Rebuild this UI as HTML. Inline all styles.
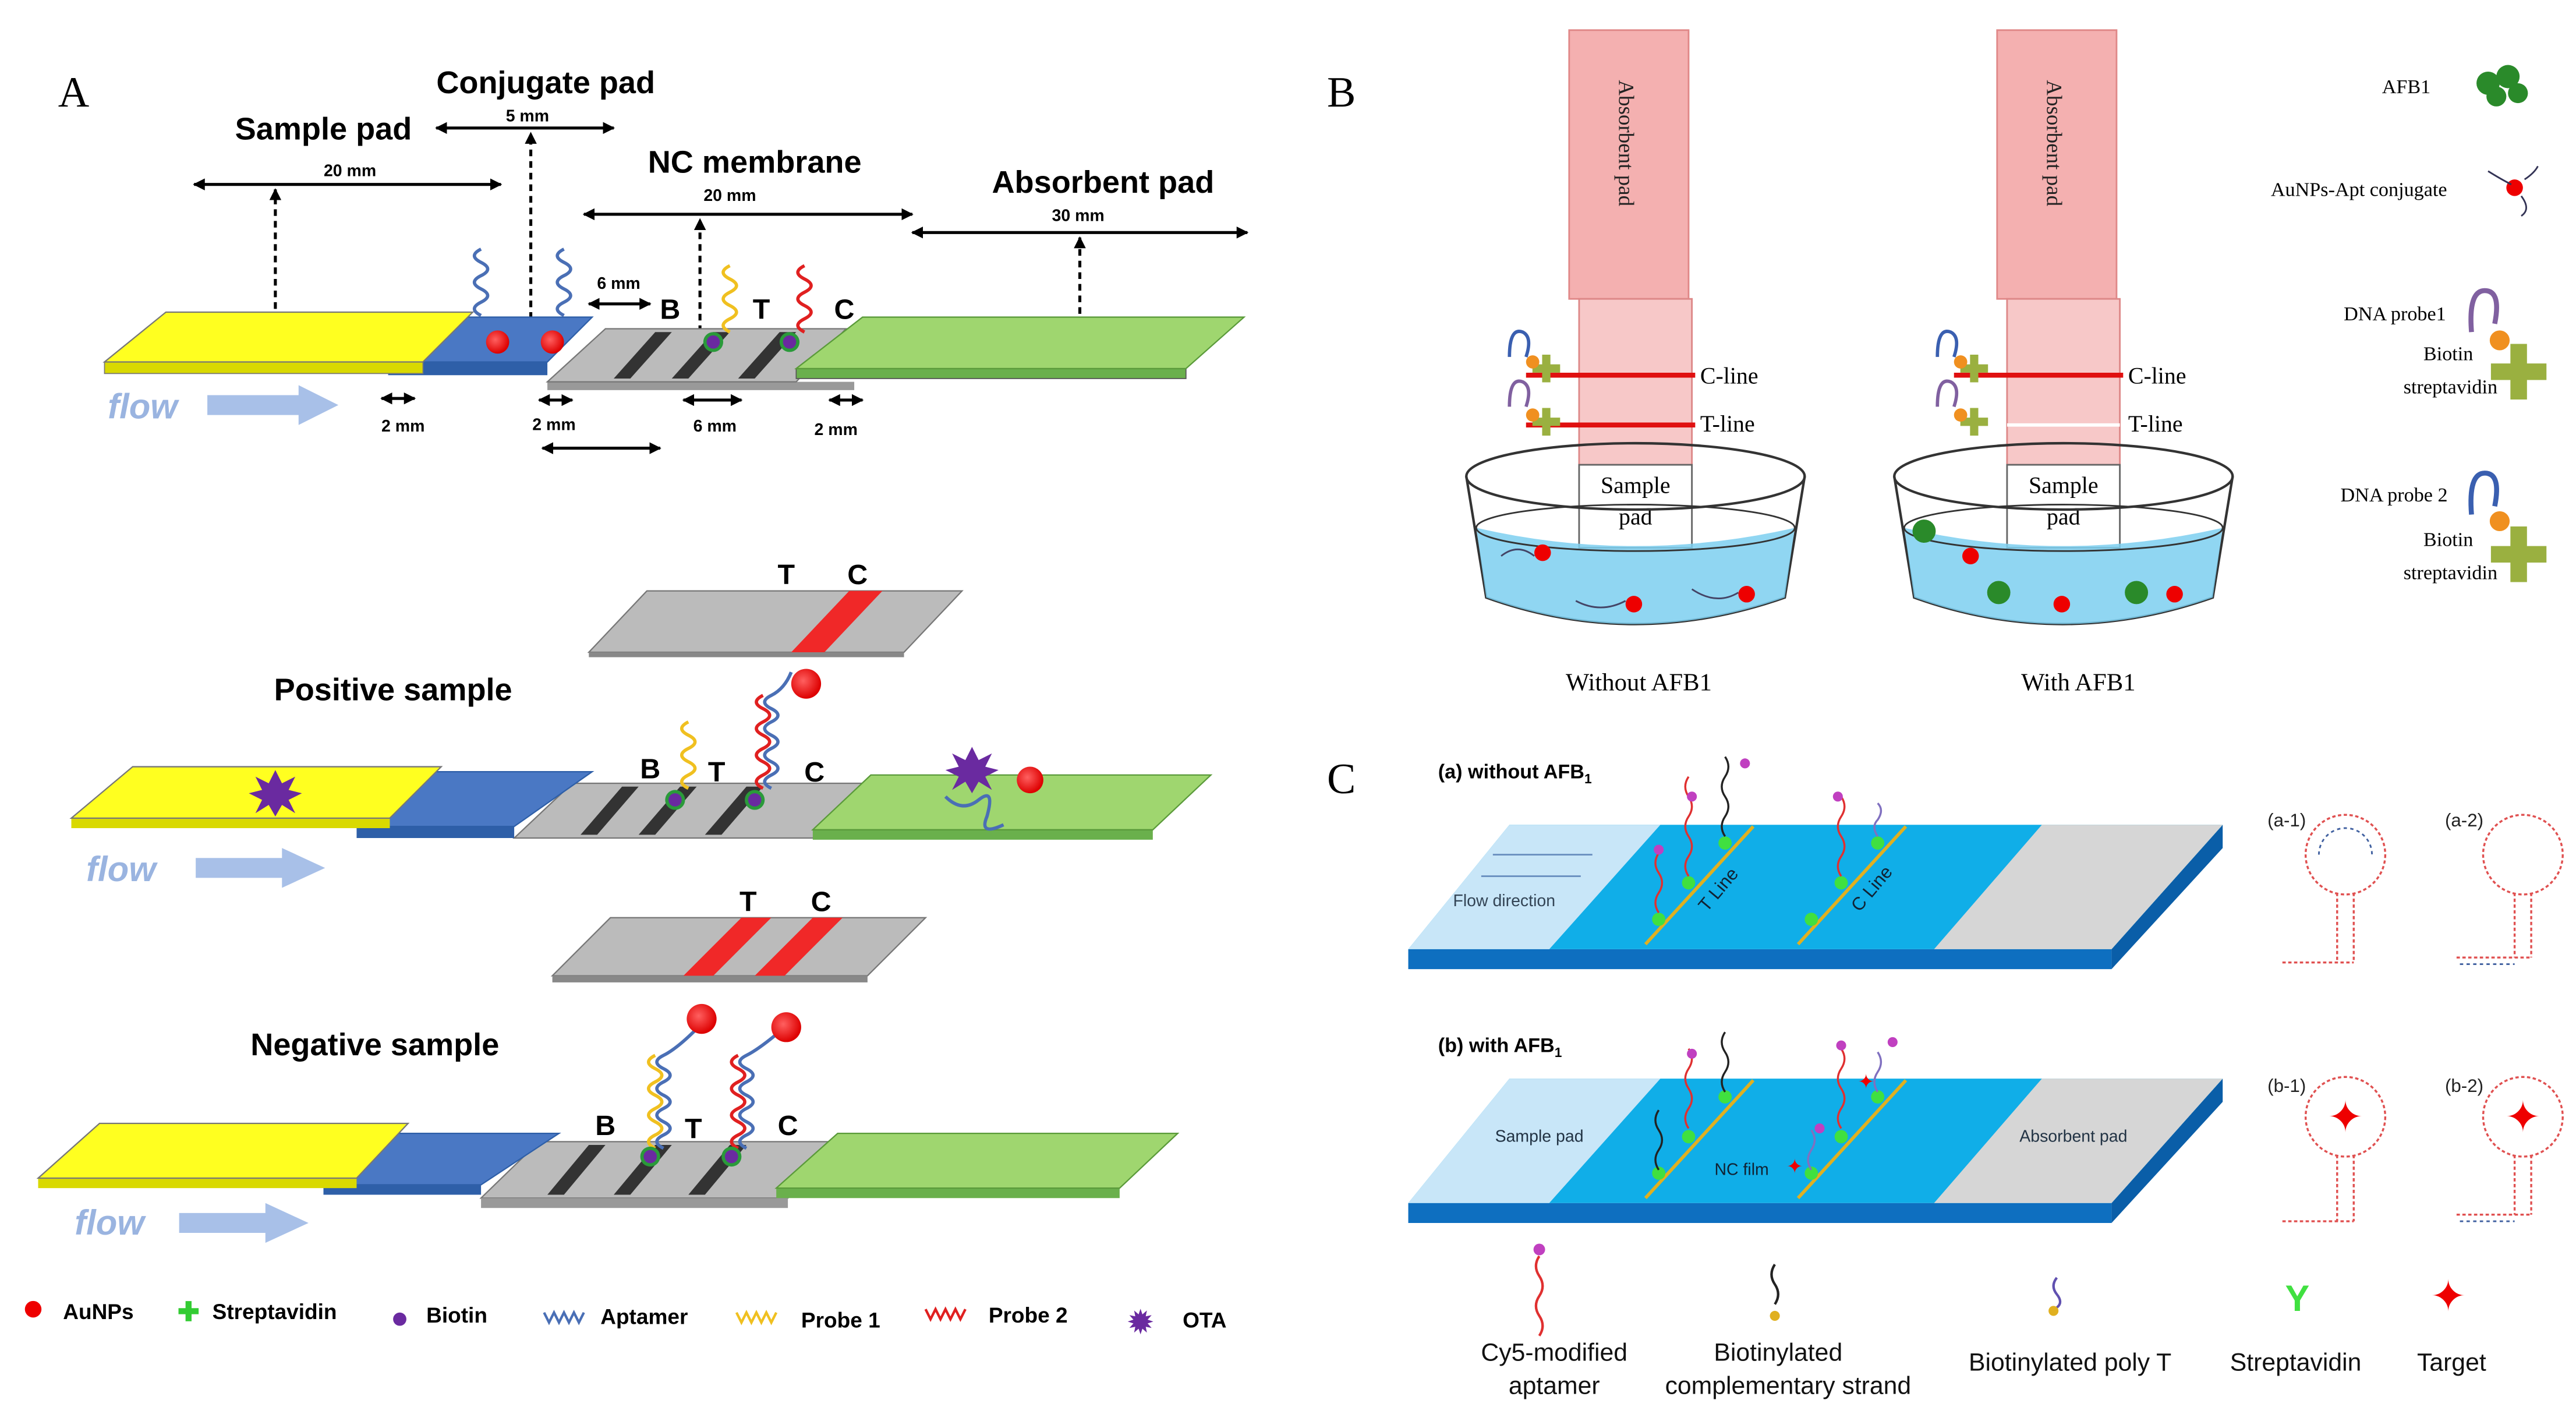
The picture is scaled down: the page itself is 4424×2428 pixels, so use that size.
<!DOCTYPE html>
<html><head><meta charset="utf-8"><style>
html,body{margin:0;padding:0;background:#fff;}
svg{display:block;}
.sb{font-family:"Liberation Sans",sans-serif;font-weight:bold;}
.s{font-family:"Liberation Sans",sans-serif;}
.sf{font-family:"Liberation Serif",serif;}
</style></head><body>
<svg width="4424" height="2428" viewBox="0 0 1553 852" xmlns="http://www.w3.org/2000/svg">
<defs>
<marker id="ah" viewBox="0 0 10 10" refX="9" refY="5" markerWidth="4" markerHeight="4" orient="auto-start-reverse"><path d="M0,0L10,5L0,10z" fill="#000"/></marker>
<radialGradient id="rb" cx="0.4" cy="0.4" r="0.6"><stop offset="0" stop-color="#ff6060"/><stop offset="1" stop-color="#d00"/></radialGradient>
</defs>
<rect width="1553" height="852" fill="#fff"/>

<!-- ================= PANEL A ================= -->
<text x="35" y="64" class="sf" font-size="26">A</text>
<text x="329" y="56" class="sb" font-size="19" text-anchor="middle">Conjugate pad</text>
<text x="195" y="84" class="sb" font-size="19" text-anchor="middle">Sample pad</text>
<text x="455" y="104" class="sb" font-size="19" text-anchor="middle">NC membrane</text>
<text x="665" y="116" class="sb" font-size="19" text-anchor="middle">Absorbent pad</text>
<g stroke="#000" stroke-width="1.8" fill="none">
<line x1="117" y1="111" x2="302" y2="111" marker-start="url(#ah)" marker-end="url(#ah)"/>
<line x1="263" y1="77" x2="370" y2="77" marker-start="url(#ah)" marker-end="url(#ah)"/>
<line x1="352" y1="129" x2="550" y2="129" marker-start="url(#ah)" marker-end="url(#ah)"/>
<line x1="550" y1="140" x2="752" y2="140" marker-start="url(#ah)" marker-end="url(#ah)"/>
<line x1="166" y1="186" x2="166" y2="114" stroke-dasharray="4,3" marker-end="url(#ah)"/>
<line x1="320" y1="192" x2="320" y2="80" stroke-dasharray="4,3" marker-end="url(#ah)"/>
<line x1="422" y1="200" x2="422" y2="132" stroke-dasharray="4,3" marker-end="url(#ah)"/>
<line x1="651" y1="189" x2="651" y2="143" stroke-dasharray="4,3" marker-end="url(#ah)"/>
<line x1="355" y1="183" x2="392" y2="183" marker-start="url(#ah)" marker-end="url(#ah)"/>
<line x1="230" y1="240" x2="250" y2="240" marker-start="url(#ah)" marker-end="url(#ah)"/>
<line x1="325" y1="241" x2="345" y2="241" marker-start="url(#ah)" marker-end="url(#ah)"/>
<line x1="412" y1="241" x2="447" y2="241" marker-start="url(#ah)" marker-end="url(#ah)"/>
<line x1="500" y1="241" x2="520" y2="241" marker-start="url(#ah)" marker-end="url(#ah)"/>
<line x1="327" y1="270" x2="398" y2="270" marker-start="url(#ah)" marker-end="url(#ah)"/>
</g>
<g class="sb" font-size="10" text-anchor="middle">
<text x="211" y="106">20 mm</text><text x="318" y="73">5 mm</text><text x="440" y="121">20 mm</text><text x="650" y="133">30 mm</text>
<text x="373" y="174">6 mm</text><text x="243" y="260">2 mm</text><text x="334" y="259">2 mm</text><text x="431" y="260">6 mm</text><text x="504" y="262">2 mm</text>
</g>
<!-- top strip -->
<polygon points="330,235 515,235 515,230 330,230" fill="#999"/>
<polygon points="330,230 480,230 510,198 365,198" fill="#bbb" stroke="#777" stroke-width="0.8"/>
<polygon points="370,228 380,228 405,200 395,200" fill="#333"/><polygon points="405,228 415,228 440,200 430,200" fill="#333"/><polygon points="445,228 455,228 480,200 470,200" fill="#333"/>
<polygon points="234,218 330,218 330,226 234,226" fill="#2e5fa8"/>
<polygon points="234,218 330,218 357,191 262,191" fill="#4a78c4" stroke="#2e5fa8" stroke-width="0.8"/>
<polygon points="63,218 255,218 255,225 63,225" fill="#d9d900" stroke="#777" stroke-width="0.6"/>
<polygon points="63,218 255,218 285,188 100,188" fill="#ffff20" stroke="#777" stroke-width="0.8"/>
<polygon points="480,222 715,222 715,228 480,228" fill="#6ab04c" stroke="#555" stroke-width="0.6"/>
<polygon points="480,222 715,222 750,191 520,191" fill="#9fd66f" stroke="#5a9a3a" stroke-width="0.8"/>
<circle cx="300" cy="206" r="7" fill="url(#rb)"/><circle cx="333" cy="206" r="7" fill="url(#rb)"/>
<g fill="none" stroke-width="2">
<path d="M290,190 q-8,-4 0,-8 q8,-4 0,-8 q-8,-4 0,-8 q8,-4 0,-8 q-8,-4 0,-8" stroke="#4a6fb5"/>
<path d="M340,190 q-8,-4 0,-8 q8,-4 0,-8 q-8,-4 0,-8 q8,-4 0,-8 q-8,-4 0,-8" stroke="#4a6fb5"/>
<path d="M440,200 q-8,-4 0,-8 q8,-4 0,-8 q-8,-4 0,-8 q8,-4 0,-8 q-8,-4 0,-8" stroke="#f0c020"/>
<path d="M485,200 q-8,-4 0,-8 q8,-4 0,-8 q-8,-4 0,-8 q8,-4 0,-8 q-8,-4 0,-8" stroke="#e02020"/>
</g>
<circle cx="430" cy="206" r="6" fill="#2a9a3a"/><circle cx="430" cy="206" r="4" fill="#6a2aa0"/>
<circle cx="476" cy="206" r="6" fill="#2a9a3a"/><circle cx="476" cy="206" r="4" fill="#6a2aa0"/>
<text x="404" y="192" class="sb" font-size="17" text-anchor="middle">B</text><text x="459" y="192" class="sb" font-size="17" text-anchor="middle">T</text><text x="509" y="192" class="sb" font-size="17" text-anchor="middle">C</text>
<text x="65" y="252" class="sb" font-size="21" font-style="italic" fill="#9ab4e0">flow</text>
<polygon points="125,238 180,238 180,232 204,244 180,256 180,250 125,250" fill="#a8c0e8"/>

<!-- T/C strip positive -->
<polygon points="355,393 545,393 580,356 390,356" fill="#bbb" stroke="#777" stroke-width="0.8"/>
<polygon points="355,393 545,393 545,396 355,396" fill="#888"/>
<polygon points="477,393 497,393 532,356 512,356" fill="#f02828"/>
<text x="474" y="352" class="sb" font-size="17" text-anchor="middle">T</text><text x="517" y="352" class="sb" font-size="17" text-anchor="middle">C</text>
<text x="237" y="422" class="sb" font-size="19" text-anchor="middle">Positive sample</text>
<!-- positive strip -->
<polygon points="310,505 495,505 520,472 345,472" fill="#bbb" stroke="#777" stroke-width="0.8"/>
<polygon points="350,503 360,503 385,474 375,474" fill="#333"/><polygon points="385,503 395,503 420,474 410,474" fill="#333"/><polygon points="425,503 435,503 460,474 450,474" fill="#333"/>
<polygon points="215,498 310,498 310,505 215,505" fill="#2e5fa8"/>
<polygon points="215,498 310,498 357,465 255,465" fill="#4a78c4" stroke="#2e5fa8" stroke-width="0.8"/>
<polygon points="43,493 235,493 235,499 43,499" fill="#d9d900"/>
<polygon points="43,493 235,493 266,462 80,462" fill="#ffff20" stroke="#777" stroke-width="0.8"/>
<polygon points="490,500 695,500 695,506 490,506" fill="#6ab04c"/>
<polygon points="490,500 695,500 730,467 525,467" fill="#9fd66f" stroke="#5a9a3a" stroke-width="0.8"/>
<polygon points="166,464 170,472 178,468 174,476 182,478 174,482 178,490 170,485 166,492 162,485 154,490 158,482 150,478 158,476 154,468 162,472" fill="#6a2aa0"/>
<polygon points="586,450 590,458 598,454 594,462 602,464 594,468 598,476 590,471 586,478 582,471 574,476 578,468 570,464 578,462 574,454 582,458" fill="#6a2aa0"/>
<circle cx="621" cy="470" r="8" fill="url(#rb)"/>
<path d="M570,480 q10,10 20,2 q10,-8 5,10 q-5,12 10,5" stroke="#4a6fb5" stroke-width="2" fill="none"/>
<g fill="none" stroke-width="2">
<path d="M415,475 q-8,-4 0,-8 q8,-4 0,-8 q-8,-4 0,-8 q8,-4 0,-8 q-8,-4 0,-8" stroke="#f0c020"/>
<path d="M460,475 q-8,-4 0,-8 q8,-4 0,-8 q-8,-4 0,-8 q8,-4 0,-8 q-8,-4 0,-8 q8,-4 0,-8 q-8,-4 0,-8" stroke="#e02020"/>
<path d="M465,475 q-8,-4 0,-8 q8,-4 0,-8 q-8,-4 0,-8 q8,-4 0,-8 q-8,-4 0,-8 q8,-4 0,-8 q-8,-4 0,-8 q8,-4 12,-14" stroke="#4a6fb5"/>
</g>
<circle cx="486" cy="412" r="9" fill="url(#rb)"/>
<circle cx="407" cy="482" r="6" fill="#2a9a3a"/><circle cx="407" cy="482" r="4" fill="#6a2aa0"/>
<circle cx="455" cy="482" r="6" fill="#2a9a3a"/><circle cx="455" cy="482" r="4" fill="#6a2aa0"/>
<text x="392" y="469" class="sb" font-size="17" text-anchor="middle">B</text><text x="432" y="471" class="sb" font-size="17" text-anchor="middle">T</text><text x="491" y="471" class="sb" font-size="17" text-anchor="middle">C</text>
<text x="52" y="531" class="sb" font-size="21" font-style="italic" fill="#9ab4e0">flow</text>
<polygon points="118,517 170,517 170,511 196,523 170,535 170,529 118,529" fill="#a8c0e8"/>

<!-- T/C strip negative -->
<polygon points="333,588 523,588 558,553 368,553" fill="#bbb" stroke="#777" stroke-width="0.8"/>
<polygon points="333,588 523,588 523,592 333,592" fill="#888"/>
<polygon points="412,588 430,588 465,553 447,553" fill="#f02828"/>
<polygon points="455,588 473,588 508,553 490,553" fill="#f02828"/>
<text x="451" y="549" class="sb" font-size="17" text-anchor="middle">T</text><text x="495" y="549" class="sb" font-size="17" text-anchor="middle">C</text>
<text x="226" y="636" class="sb" font-size="19" text-anchor="middle">Negative sample</text>
<!-- negative strip -->
<polygon points="290,722 475,722 505,688 325,688" fill="#bbb" stroke="#777" stroke-width="0.8"/>
<polygon points="290,722 475,722 475,728 290,728" fill="#999"/>
<polygon points="330,720 340,720 365,690 355,690" fill="#333"/><polygon points="370,720 380,720 405,690 395,690" fill="#333"/><polygon points="415,720 425,720 450,690 440,690" fill="#333"/>
<polygon points="195,714 290,714 290,720 195,720" fill="#2e5fa8"/>
<polygon points="195,714 290,714 337,683 235,683" fill="#4a78c4" stroke="#2e5fa8" stroke-width="0.8"/>
<polygon points="23,710 215,710 215,716 23,716" fill="#d9d900"/>
<polygon points="23,710 215,710 246,677 60,677" fill="#ffff20" stroke="#777" stroke-width="0.8"/>
<polygon points="468,716 675,716 675,722 468,722" fill="#6ab04c"/>
<polygon points="468,716 675,716 710,683 505,683" fill="#9fd66f" stroke="#5a9a3a" stroke-width="0.8"/>
<g fill="none" stroke-width="2">
<path d="M395,692 q-8,-4 0,-8 q8,-4 0,-8 q-8,-4 0,-8 q8,-4 0,-8 q-8,-4 0,-8 q8,-4 0,-8 q-8,-4 0,-8" stroke="#f0c020"/>
<path d="M400,692 q-8,-4 0,-8 q8,-4 0,-8 q-8,-4 0,-8 q8,-4 0,-8 q-8,-4 0,-8 q8,-4 0,-8 q-8,-4 0,-8 q8,-4 20,-16" stroke="#4a6fb5"/>
<path d="M445,692 q-8,-4 0,-8 q8,-4 0,-8 q-8,-4 0,-8 q8,-4 0,-8 q-8,-4 0,-8 q8,-4 0,-8 q-8,-4 0,-8" stroke="#e02020"/>
<path d="M450,692 q-8,-4 0,-8 q8,-4 0,-8 q-8,-4 0,-8 q8,-4 0,-8 q-8,-4 0,-8 q8,-4 0,-8 q-8,-4 0,-8 q8,-4 22,-16" stroke="#4a6fb5"/>
</g>
<circle cx="423" cy="614" r="9" fill="url(#rb)"/><circle cx="474" cy="619" r="9" fill="url(#rb)"/>
<circle cx="392" cy="697" r="6" fill="#2a9a3a"/><circle cx="392" cy="697" r="4" fill="#6a2aa0"/>
<circle cx="441" cy="697" r="6" fill="#2a9a3a"/><circle cx="441" cy="697" r="4" fill="#6a2aa0"/>
<text x="365" y="684" class="sb" font-size="17" text-anchor="middle">B</text><text x="418" y="686" class="sb" font-size="17" text-anchor="middle">T</text><text x="475" y="684" class="sb" font-size="17" text-anchor="middle">C</text>
<text x="45" y="744" class="sb" font-size="21" font-style="italic" fill="#9ab4e0">flow</text>
<polygon points="108,731 160,731 160,725 186,737 160,749 160,743 108,743" fill="#a8c0e8"/>

<!-- legend A -->
<circle cx="20" cy="789" r="5" fill="#e00"/><text x="38" y="795" class="sb" font-size="13">AuNPs</text>
<text x="107" y="796" class="sb" font-size="16" fill="#3c3">✚</text><text x="128" y="795" class="sb" font-size="13">Streptavidin</text>
<circle cx="241" cy="795" r="4" fill="#6a2aa0"/><text x="257" y="797" class="sb" font-size="13">Biotin</text>
<path d="M328,791 l3,6 l3,-6 l3,6 l3,-6 l3,6 l3,-6 l3,6 l3,-6" stroke="#4a6fb5" stroke-width="1.5" fill="none"/><text x="362" y="798" class="sb" font-size="13">Aptamer</text>
<path d="M444,791 l3,6 l3,-6 l3,6 l3,-6 l3,6 l3,-6 l3,6 l3,-6" stroke="#f0c020" stroke-width="1.5" fill="none"/><text x="483" y="800" class="sb" font-size="13">Probe 1</text>
<path d="M558,789 l3,6 l3,-6 l3,6 l3,-6 l3,6 l3,-6 l3,6 l3,-6" stroke="#e02020" stroke-width="1.5" fill="none"/><text x="596" y="797" class="sb" font-size="13">Probe 2</text>
<text x="680" y="803" class="sb" font-size="18" fill="#6a2aa0">✹</text><text x="713" y="800" class="sb" font-size="13">OTA</text>

<!-- ================= PANEL B ================= -->
<text x="800" y="64" class="sf" font-size="26">B</text>
<g id="colB">
<rect x="946" y="18" width="72" height="162" fill="#f4b0b0" stroke="#e08888"/>
<text transform="translate(976,48) rotate(90)" class="sf" font-size="13" fill="#222">Absorbent pad</text>
<rect x="952" y="180" width="68" height="100" fill="#f7c8c8" stroke="#d88"/>
<rect x="952" y="280" width="68" height="50" fill="#fff" stroke="#666"/>
<text x="986" y="297" class="sf" font-size="14" text-anchor="middle">Sample</text>
<text x="986" y="316" class="sf" font-size="14" text-anchor="middle">pad</text>
<path d="M884,287 L896,360 Q985,392 1076,360 L1088,287" fill="none" stroke="#333" stroke-width="1.5"/>
<path d="M890,318 Q985,340 1082,318 L1076,360 Q985,392 896,360 Z" fill="#7ccff0" opacity="0.85"/>
<ellipse cx="986" cy="287" rx="102" ry="20" fill="none" stroke="#333" stroke-width="1.5"/>
<ellipse cx="986" cy="318" rx="96" ry="14" fill="none" stroke="#333" stroke-width="1"/>
</g>
<line x1="920" y1="226" x2="1022" y2="226" stroke="#e01010" stroke-width="3"/>
<line x1="920" y1="256" x2="1022" y2="256" stroke="#e01010" stroke-width="3"/>
<text x="1025" y="231" class="sf" font-size="14">C-line</text><text x="1025" y="260" class="sf" font-size="14">T-line</text>
<path d="M910,215 q0,-18 8,-15 q6,3 2,15" fill="none" stroke="#3a5fb0" stroke-width="2"/><text x="923" y="230" font-size="22" fill="#9ab040" class="sb">✚</text><circle cx="924" cy="218" r="4" fill="#f09020"/>
<path d="M910,245 q0,-18 8,-15 q6,3 2,15" fill="none" stroke="#8060a0" stroke-width="2"/><text x="923" y="262" font-size="22" fill="#9ab040" class="sb">✚</text><circle cx="924" cy="250" r="4" fill="#f09020"/>
<circle cx="930" cy="333" r="5" fill="#e00"/><circle cx="985" cy="364" r="5" fill="#e00"/><circle cx="1053" cy="358" r="5" fill="#e00"/>
<path d="M905,335 q10,-8 20,0 M950,362 q15,8 30,0 M1020,355 q15,10 28,2" stroke="#446" fill="none"/>
<text x="988" y="416" class="sf" font-size="15" text-anchor="middle">Without AFB1</text>

<use href="#colB" x="258"/>
<line x1="1178" y1="226" x2="1280" y2="226" stroke="#e01010" stroke-width="3"/>
<line x1="1210" y1="256" x2="1278" y2="256" stroke="#fff" stroke-width="2"/>
<text x="1283" y="231" class="sf" font-size="14">C-line</text><text x="1283" y="260" class="sf" font-size="14">T-line</text>
<path d="M1168,215 q0,-18 8,-15 q6,3 2,15" fill="none" stroke="#3a5fb0" stroke-width="2"/><text x="1181" y="230" font-size="22" fill="#9ab040" class="sb">✚</text><circle cx="1182" cy="218" r="4" fill="#f09020"/>
<path d="M1168,245 q0,-18 8,-15 q6,3 2,15" fill="none" stroke="#8060a0" stroke-width="2"/><text x="1181" y="262" font-size="22" fill="#9ab040" class="sb">✚</text><circle cx="1182" cy="250" r="4" fill="#f09020"/>
<circle cx="1160" cy="320" r="7" fill="#2a8a2a"/><circle cx="1205" cy="357" r="7" fill="#2a8a2a"/><circle cx="1288" cy="357" r="7" fill="#2a8a2a"/>
<circle cx="1188" cy="335" r="5" fill="#e00"/><circle cx="1243" cy="364" r="5" fill="#e00"/><circle cx="1311" cy="358" r="5" fill="#e00"/>
<text x="1253" y="416" class="sf" font-size="15" text-anchor="middle">With AFB1</text>

<text x="1436" y="56" class="sf" font-size="12">AFB1</text>
<g fill="#2a8a2a"><circle cx="1500" cy="50" r="7"/><circle cx="1512" cy="46" r="7"/><circle cx="1518" cy="56" r="6"/><circle cx="1505" cy="58" r="6"/></g>
<text x="1369" y="118" class="sf" font-size="12">AuNPs-Apt conjugate</text>
<circle cx="1516" cy="113" r="5" fill="#e00"/><path d="M1500,103 q8,5 14,8 M1520,118 q6,8 0,12 M1522,108 q6,-4 8,-8" stroke="#335" fill="none"/>
<text x="1413" y="193" class="sf" font-size="12">DNA probe1</text>
<path d="M1490,200 q-2,-25 8,-25 q10,0 6,20" fill="none" stroke="#8060a0" stroke-width="3"/>
<circle cx="1507" cy="205" r="6" fill="#f09020"/>
<text x="1500" y="240" font-size="44" fill="#9ab040" class="sb">✚</text>
<text x="1461" y="217" class="sf" font-size="12">Biotin</text><text x="1449" y="237" class="sf" font-size="12">streptavidin</text>
<text x="1411" y="302" class="sf" font-size="12">DNA probe 2</text>
<path d="M1490,310 q-2,-25 8,-25 q10,0 6,20" fill="none" stroke="#3a5fb0" stroke-width="3"/>
<circle cx="1507" cy="314" r="6" fill="#f09020"/>
<text x="1500" y="350" font-size="44" fill="#9ab040" class="sb">✚</text>
<text x="1461" y="329" class="sf" font-size="12">Biotin</text><text x="1449" y="349" class="sf" font-size="12">streptavidin</text>

<!-- ================= PANEL C ================= -->
<text x="800" y="478" class="sf" font-size="26">C</text>
<text x="867" y="469" class="sb" font-size="12">(a) without AFB<tspan font-size="8" dy="3">1</tspan></text>
<g id="stripC">
<polygon points="849,572 1273,572 1273,584 849,584" fill="#0e6fc0"/>
<polygon points="1273,572 1340,497 1340,511 1273,584" fill="#0a5ea8"/>
<polygon points="849,572 1273,572 1340,497 910,497" fill="#10aee8"/>
<polygon points="849,572 934,572 1001,497 910,497" fill="#c8e6f8"/>
<polygon points="1166,572 1273,572 1340,497 1231,497" fill="#d6d6d6"/>
<line x1="992" y1="569" x2="1057" y2="498" stroke="#e0b020" stroke-width="2"/>
<line x1="1084" y1="569" x2="1149" y2="498" stroke="#e0b020" stroke-width="2"/>
<g fill="#40e040"><circle cx="1000" cy="554" r="4"/><circle cx="1018" cy="532" r="4"/><circle cx="1040" cy="508" r="4"/><circle cx="1092" cy="554" r="4"/><circle cx="1110" cy="532" r="4"/><circle cx="1132" cy="508" r="4"/></g>
</g>
<text x="876" y="546" class="s" font-size="10" fill="#345">Flow direction</text>
<line x1="900" y1="515" x2="960" y2="515" stroke="#6a90c0"/><line x1="893" y1="528" x2="953" y2="528" stroke="#6a90c0"/>
<text transform="translate(1029,550) rotate(-50)" class="s" font-size="11" fill="#123">T Line</text>
<text transform="translate(1121,550) rotate(-50)" class="s" font-size="11" fill="#123">C Line</text>
<g fill="none" stroke-width="1.2">
<path d="M1000,550 q-4,-6 0,-12 q4,-6 0,-12 q-4,-6 0,-12" stroke="#e03030"/><path d="M1018,528 q-4,-6 0,-12 q4,-6 0,-12 q-4,-6 0,-12 q4,-6 0,-12 q-4,-6 0,-12" stroke="#e03030"/>
<path d="M1040,504 q-4,-6 0,-12 q4,-6 0,-12 q-4,-6 0,-12 q4,-6 0,-12" stroke="#222"/><path d="M1110,528 q-4,-6 0,-12 q4,-6 0,-12 q-4,-6 0,-12 q4,-6 0,-12" stroke="#e03030"/>
<path d="M1132,504 q-4,-6 0,-10 q4,-6 0,-10" stroke="#8070c0"/>
</g>
<g fill="#c040c0"><circle cx="1000" cy="512" r="3"/><circle cx="1020" cy="480" r="3"/><circle cx="1052" cy="460" r="3"/><circle cx="1108" cy="480" r="3"/></g>

<text x="867" y="634" class="sb" font-size="12">(b) with AFB<tspan font-size="8" dy="3">1</tspan></text>
<use href="#stripC" y="153"/>
<text x="928" y="688" class="s" font-size="10" fill="#234" text-anchor="middle">Sample pad</text>
<text x="1050" y="708" class="s" font-size="10" fill="#123" text-anchor="middle">NC film</text>
<text x="1250" y="688" class="s" font-size="10" fill="#234" text-anchor="middle">Absorbent pad</text>
<g fill="none" stroke-width="1.2">
<path d="M1018,680 q-4,-6 0,-12 q4,-6 0,-12 q-4,-6 0,-12 q4,-6 0,-12" stroke="#e03030"/><path d="M1040,658 q-4,-6 0,-12 q4,-6 0,-12 q-4,-6 0,-12" stroke="#222"/>
<path d="M1000,705 q-4,-6 0,-12 q4,-6 0,-12 q-4,-6 0,-12" stroke="#222"/><path d="M1110,680 q-4,-6 0,-12 q4,-6 0,-12 q-4,-6 0,-12 q4,-6 0,-12" stroke="#e03030"/>
<path d="M1132,658 q-4,-6 0,-12 q4,-6 0,-12" stroke="#8070c0"/><path d="M1092,705 q-4,-6 0,-12 q4,-6 0,-12" stroke="#8070c0"/>
</g>
<g fill="#c040c0"><circle cx="1020" cy="635" r="3"/><circle cx="1097" cy="680" r="3"/><circle cx="1110" cy="630" r="3"/><circle cx="1141" cy="628" r="3"/></g>
<text x="1125" y="656" font-size="12" fill="#e00" text-anchor="middle">✦</text><text x="1082" y="707" font-size="12" fill="#e00" text-anchor="middle">✦</text>

<!-- hairpins -->
<g class="s" font-size="11" fill="#222"><text x="1367" y="498">(a-1)</text><text x="1474" y="498">(a-2)</text><text x="1367" y="658">(b-1)</text><text x="1474" y="658">(b-2)</text></g>
<g fill="none" stroke="#e05050" stroke-width="1.2" stroke-dasharray="2,1.5">
<circle cx="1414" cy="515" r="24"/><line x1="1409" y1="538" x2="1409" y2="580"/><line x1="1419" y1="538" x2="1419" y2="580"/><line x1="1376" y1="580" x2="1419" y2="580"/>
<circle cx="1521" cy="515" r="24"/><line x1="1516" y1="538" x2="1516" y2="577"/><line x1="1526" y1="538" x2="1526" y2="577"/><line x1="1481" y1="577" x2="1526" y2="577"/>
<circle cx="1414" cy="673" r="24"/><line x1="1409" y1="696" x2="1409" y2="736"/><line x1="1419" y1="696" x2="1419" y2="736"/><line x1="1376" y1="736" x2="1419" y2="736"/>
<circle cx="1521" cy="673" r="24"/><line x1="1516" y1="696" x2="1516" y2="732"/><line x1="1526" y1="696" x2="1526" y2="732"/><line x1="1481" y1="732" x2="1526" y2="732"/>
</g>
<path d="M1398,515 a16,16 0 1 1 32,0" fill="none" stroke="#4060a0" stroke-dasharray="2,2"/>
<line x1="1483" y1="581" x2="1516" y2="581" stroke="#4060a0" stroke-dasharray="2,2"/><line x1="1483" y1="736" x2="1516" y2="736" stroke="#4060a0" stroke-dasharray="2,2"/>
<text x="1414" y="682" font-size="26" fill="#e00" text-anchor="middle">✦</text>
<text x="1521" y="682" font-size="26" fill="#e00" text-anchor="middle">✦</text>

<!-- legend C -->
<circle cx="928" cy="753" r="3.5" fill="#c040c0"/>
<path d="M928,757 q-4,6 0,12 q4,6 0,12 q-4,6 0,12 q4,6 0,12" stroke="#e03030" stroke-width="1.5" fill="none"/>
<path d="M1070,762 q-4,6 0,12 q4,6 0,12" stroke="#222" stroke-width="1.5" fill="none"/><circle cx="1070" cy="793" r="3" fill="#e0b020"/>
<path d="M1240,770 q-4,5 0,10 q4,5 0,8" stroke="#6050b0" stroke-width="1.5" fill="none"/><circle cx="1238" cy="790" r="3" fill="#e0b020"/>
<text x="1385" y="790" font-size="22" fill="#40e040" text-anchor="middle" class="sb">Y</text>
<text x="1476" y="790" font-size="26" fill="#e00" text-anchor="middle">✦</text>
<g class="s" font-size="15" fill="#111" text-anchor="middle">
<text x="937" y="820">Cy5-modified</text><text x="937" y="840">aptamer</text>
<text x="1072" y="820">Biotinylated</text><text x="1078" y="840">complementary strand</text>
<text x="1248" y="826">Biotinylated poly T</text><text x="1384" y="826">Streptavidin</text><text x="1478" y="826">Target</text>
</g>
</svg>
</body></html>
